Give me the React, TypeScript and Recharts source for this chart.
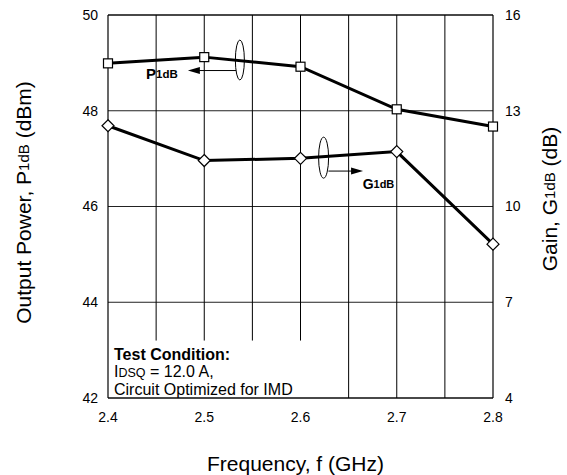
import React from 'react';
import {
  ComposedChart,
  Line,
  XAxis,
  YAxis,
  CartesianGrid,
  ReferenceLine,
  ReferenceArea,
  ReferenceDot,
  Label,
} from 'recharts';

const FONT = '"Liberation Sans", Arial, Helvetica, sans-serif';

const freq = [2.4, 2.5, 2.6, 2.7, 2.8];
const p1dB = [48.99, 49.12, 48.92, 48.03, 47.67];
const g1dB = [12.53, 11.44, 11.51, 11.72, 8.82];

const xTicks = [2.4, 2.5, 2.6, 2.7, 2.8];
const xMinorGrid = [2.45, 2.5, 2.55, 2.6, 2.65, 2.7, 2.75];
const leftTicks = [42, 44, 46, 48, 50];
const rightTicks = [4, 7, 10, 13, 16];

const boxX2 = 2.61;
const boxTop = 43.2;

const data = freq.map((f, i) => ({ f, p: p1dB[i], g: g1dB[i] }));

const SquareDot = (props: any) => {
  const { cx, cy } = props;
  if (cx == null || cy == null) return null;
  return <rect x={cx - 4.5} y={cy - 4.5} width={9} height={9} fill="#fff" stroke="#000" strokeWidth={1.2} />;
};

const DiamondDot = (props: any) => {
  const { cx, cy } = props;
  if (cx == null || cy == null) return null;
  const r = 6;
  return (
    <polygon
      points={`${cx},${cy - r} ${cx + r},${cy} ${cx},${cy + r} ${cx - r},${cy}`}
      fill="#fff"
      stroke="#000"
      strokeWidth={1.2}
    />
  );
};

const Ellipse = (rx: number, ry: number) => (props: any) => (
  <ellipse cx={props.cx} cy={props.cy} rx={rx} ry={ry} fill="none" stroke="#000" strokeWidth={1} />
);

const ArrowHead = (dir: 'left' | 'right') => (props: any) => {
  const { cx, cy } = props;
  const s = dir === 'left' ? 1 : -1;
  return (
    <polygon
      points={`${cx},${cy} ${cx + s * 12},${cy - 3.5} ${cx + s * 12},${cy + 3.5}`}
      fill="#000"
      stroke="none"
    />
  );
};

const SubLabel = (main: string, sub: string, size: number, subSize: number) => (props: any) => (
  <text x={props.cx} y={props.cy} fontFamily={FONT} fontWeight="bold" fontSize={size} fill="#000" textAnchor="middle" dominantBaseline="middle">
    {main}
    <tspan fontSize={subSize}>{sub}</tspan>
  </text>
);

const TestBox = (props: any) => {
  const { x, y } = props;
  return (
    <g>
      <text x={x + 6} y={y + 19.5} fontFamily={FONT} fontSize={16} fontWeight="bold" fill="#000">
        Test Condition:
      </text>
      <text x={x + 6} y={y + 36.5} fontFamily={FONT} fontSize={16} fill="#000">
        I<tspan fontSize={12.5}>DSQ</tspan> = 12.0 A,
      </text>
      <text x={x + 6} y={y + 54.5} fontFamily={FONT} fontSize={16} fill="#000">
        Circuit Optimized for IMD
      </text>
    </g>
  );
};

const LeftTitle = (props: any) => {
  const vb = props.viewBox || {};
  const cx = 25;
  const cy = vb.y + vb.height / 2 - 4;
  return (
    <text x={cx} y={cy} transform={`rotate(-90 ${cx} ${cy})`} fontFamily={FONT} fontSize={21} fill="#000" textAnchor="middle" dominantBaseline="middle">
      Output Power, P<tspan fontSize={15}>1dB</tspan> (dBm)
    </text>
  );
};

const RightTitle = () => {
  const cx = 551;
  const cy = 199;
  return (
    <text x={cx} y={cy} transform={`rotate(-90 ${cx} ${cy})`} fontFamily={FONT} fontSize={21} fill="#000" textAnchor="middle" dominantBaseline="middle">
      Gain, G<tspan fontSize={15}>1dB</tspan> (dB)
    </text>
  );
};

const BottomTitle = (props: any) => {
  const vb = props.viewBox || {};
  return (
    <text x={vb.x + vb.width / 2 - 5} y={470.5} fontFamily={FONT} fontSize={21} fill="#000" textAnchor="middle">
      Frequency, f (GHz)
    </text>
  );
};

export default function App() {
  const tickStyle = { fontFamily: FONT, fontSize: 14, fill: '#000' };
  return (
    <div style={{ position: 'absolute', left: 0, top: 0, background: '#fff' }}>
      <ComposedChart width={567} height={475} data={data} margin={{ top: 15, right: 0, bottom: 0, left: 0 }}>
        <CartesianGrid vertical={false} stroke="#222" strokeWidth={1} yAxisId="left" />
        <XAxis
          dataKey="f"
          type="number"
          domain={[2.4, 2.8]}
          ticks={xTicks}
          tickFormatter={(v: number) => v.toFixed(1)}
          height={77}
          tickLine={false}
          tickMargin={8}
          axisLine={{ stroke: '#000', strokeWidth: 1.2 }}
          tick={tickStyle}
        >
          <Label content={BottomTitle} />
        </XAxis>
        <YAxis
          yAxisId="left"
          orientation="left"
          domain={[42, 50]}
          ticks={leftTicks}
          width={108}
          tickLine={false}
          tickMargin={4}
          axisLine={{ stroke: '#000', strokeWidth: 1.2 }}
          tick={tickStyle}
        >
          <Label content={LeftTitle} />
        </YAxis>
        <YAxis
          yAxisId="right"
          orientation="right"
          domain={[4, 16]}
          ticks={rightTicks}
          width={74}
          tickLine={false}
          tickMargin={6}
          axisLine={{ stroke: '#000', strokeWidth: 1.2 }}
          tick={tickStyle}
        >
          <Label content={RightTitle} />
        </YAxis>
        {xMinorGrid.map((x) => (
          <ReferenceLine
            key={x}
            yAxisId="left"
            segment={[{ x, y: x <= boxX2 ? boxTop : 42 }, { x, y: 50 }]}
            stroke="#000"
            strokeWidth={1}
          />
        ))}
        <ReferenceLine y={50} yAxisId="left" stroke="#000" strokeWidth={1.2} />
        <ReferenceArea x1={2.4} x2={boxX2} y1={42} y2={boxTop} yAxisId="left" shape={TestBox} />
        <Line
          yAxisId="left"
          dataKey="p"
          stroke="#000"
          strokeWidth={3}
          dot={SquareDot}
          isAnimationActive={false}
        />
        <Line
          yAxisId="right"
          dataKey="g"
          stroke="#000"
          strokeWidth={3}
          dot={DiamondDot}
          isAnimationActive={false}
        />
        <ReferenceDot x={2.537} y={49.06} yAxisId="left" shape={Ellipse(4.5, 20)} />
        <ReferenceLine
          yAxisId="left"
          segment={[{ x: 2.533, y: 48.84 }, { x: 2.49, y: 48.84 }]}
          stroke="#000"
          strokeWidth={1}
        />
        <ReferenceDot x={2.483} y={48.84} yAxisId="left" shape={ArrowHead('left')} />
        <ReferenceDot x={2.456} y={48.75} yAxisId="left" shape={SubLabel('P', '1dB', 15, 11.5)} />
        <ReferenceDot x={2.624} y={47.02} yAxisId="left" shape={Ellipse(5, 20.5)} />
        <ReferenceLine
          yAxisId="left"
          segment={[{ x: 2.629, y: 46.74 }, { x: 2.66, y: 46.74 }]}
          stroke="#000"
          strokeWidth={1}
        />
        <ReferenceDot x={2.665} y={46.74} yAxisId="left" shape={ArrowHead('right')} />
        <ReferenceDot x={2.681} y={46.45} yAxisId="left" shape={SubLabel('G', '1dB', 14, 11)} />
      </ComposedChart>
    </div>
  );
}
